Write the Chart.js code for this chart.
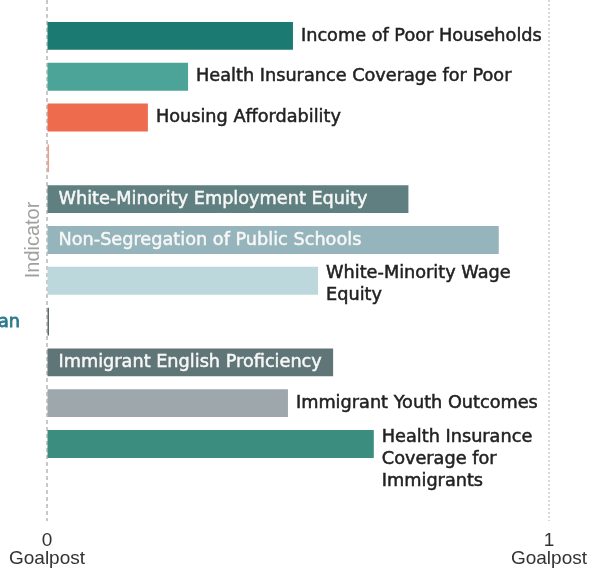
<!DOCTYPE html>
<html>
<head>
<meta charset="utf-8">
<script src="https://cdn.jsdelivr.net/npm/chart.js@4"></script>
<style>
  html, body { margin: 0; padding: 0; background: #fff; }
  #wrap { width: 589px; height: 568px; position: relative; }
</style>
</head>
<body>
<div id="wrap"><canvas id="goalChart"></canvas></div>
<script>
// --- Data ---
const indicators = [
  'Income of Poor Households',
  'Health Insurance Coverage for Poor',
  'Housing Affordability',
  '',
  'White-Minority Employment Equity',
  'Non-Segregation of Public Schools',
  ['White-Minority Wage', 'Equity'],
  '',
  'Immigrant English Proficiency',
  'Immigrant Youth Outcomes',
  ['Health Insurance', 'Coverage for', 'Immigrants']
];
const scores = [0.49, 0.281, 0.201, 0.004, 0.72, 0.9, 0.54, 0.004, 0.57, 0.48, 0.651];
const labelInside = [false, false, false, false, true, true, false, false, true, false, false];
const barColors = ['#1b7a71', '#4ca397', '#ee6b4d', '#f09a88', '#5f7f80', '#95b4bb', '#bcd8dc', '#5b6b6c', '#5f7577', '#9ea7ab', '#3a8d7f'];
const xTickLabels = { 0: ['0', 'Goalpost'], 1: ['1', 'Goalpost'] };
const sideNote = 'an'; // cut-off text at the left edge

const labelFont = '17.7px "DejaVu Sans"';

// dashed goalpost lines, drawn from the x scale
const goalLines = {
  id: 'goalLines',
  beforeDatasetsDraw(chart) {
    const { ctx, scales: { x } } = chart;
    ctx.save();
    ctx.lineWidth = 1.5;
    ctx.strokeStyle = '#b8b8b8';
    ctx.setLineDash([4, 3]);
    ctx.beginPath();
    ctx.moveTo(x.getPixelForValue(0), 0);
    ctx.lineTo(x.getPixelForValue(0), 521);
    ctx.stroke();
    ctx.strokeStyle = '#cccccc';
    ctx.setLineDash([2, 2]);
    ctx.beginPath();
    ctx.moveTo(x.getPixelForValue(1), 0);
    ctx.lineTo(x.getPixelForValue(1), 521);
    ctx.stroke();
    ctx.restore();
  }
};

// bar labels: white inside the bar, dark after it (thin stroke for a heavier look)
const barLabels = {
  id: 'barLabels',
  afterDatasetsDraw(chart) {
    const { ctx } = chart;
    const meta = chart.getDatasetMeta(0);
    ctx.save();
    ctx.font = labelFont;
    ctx.textBaseline = 'middle';
    ctx.textAlign = 'left';
    ctx.lineWidth = 0.5;
    const put = (t, x, y, c) => {
      ctx.fillStyle = c; ctx.strokeStyle = c;
      ctx.fillText(t, x, y); ctx.strokeText(t, x, y);
    };
    meta.data.forEach((bar, i) => {
      const lines = [].concat(indicators[i]).filter(s => s);
      if (!lines.length) return;
      const inside = labelInside[i];
      const tx = inside ? bar.base + 11 : bar.x + 8;
      const y0 = lines.length > 1 ? bar.y - 7 : bar.y;
      lines.forEach((t, k) => put(t, tx, y0 + k * 22, inside ? '#f7f7f7' : '#222'));
    });
    // partial text on the left edge
    const y = chart.scales.y.getPixelForValue(7);
    ctx.textAlign = 'right';
    ctx.lineWidth = 0.8;
    put(sideNote, 20, y + 1, '#2b7a8b');
    ctx.restore();
  }
};

const ctx = document.getElementById('goalChart').getContext('2d');
new Chart(ctx, {
  type: 'bar',
  data: {
    labels: indicators,
    datasets: [{
      data: scores,
      backgroundColor: barColors,
      borderWidth: 0,
      categoryPercentage: 1,
      barPercentage: 0.683
    }]
  },
  options: {
    indexAxis: 'y',
    responsive: true,
    maintainAspectRatio: false,
    animation: false,
    layout: { padding: { top: 15.5, left: 17, right: 40, bottom: -2 } },
    plugins: { legend: { display: false }, tooltip: { enabled: false } },
    scales: {
      x: {
        type: 'linear', min: 0, max: 1,
        // invisible tick marks keep the labels down near the bottom
        grid: { display: true, drawOnChartArea: false, drawTicks: true, tickLength: 65.5, color: 'rgba(0,0,0,0)' },
        border: { display: false },
        afterBuildTicks: (axis) => { axis.ticks = [{ value: 0 }, { value: 1 }]; },
        ticks: {
          padding: 2,
          color: '#333',
          maxRotation: 0,
          font: { family: '"Liberation Sans"', size: 19, lineHeight: 0.95 },
          callback: (v) => xTickLabels[v]
        }
      },
      y: {
        grid: { display: false, drawTicks: false },
        border: { display: false },
        ticks: { display: false },
        title: {
          display: true, text: 'Indicator', color: '#a0a0a0',
          padding: { top: 4, bottom: 2 },
          font: { family: '"Liberation Sans"', size: 20, lineHeight: 1.2 }
        }
      }
    }
  },
  plugins: [goalLines, barLabels]
});
</script>
</body>
</html>
